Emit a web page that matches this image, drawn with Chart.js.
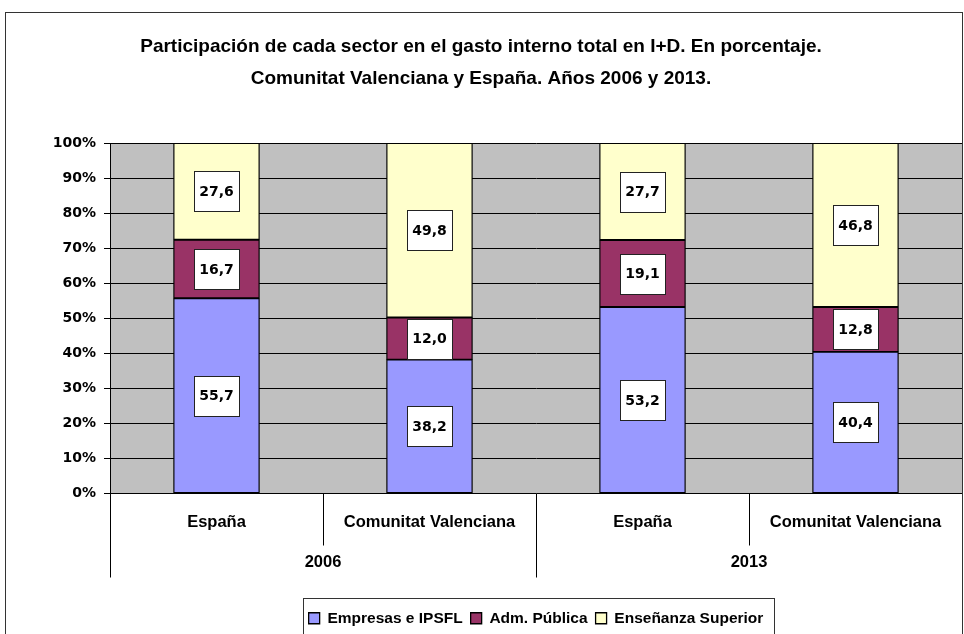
<!DOCTYPE html>
<html>
<head>
<meta charset="utf-8">
<script src="https://cdn.jsdelivr.net/npm/chart.js@4"></script>
<style>
html,body{margin:0;padding:0;background:#fff;overflow:hidden}
#wrap{width:964px;height:660px}
</style>
</head>
<body>
<div id="wrap"><canvas id="chart" width="964" height="660"></canvas></div>
<script>
const categories=['España','Comunitat Valenciana','España','Comunitat Valenciana'];
const years=['2006','2013'];
const seriesNames=['Empresas e IPSFL','Adm. Pública','Enseñanza Superior'];
const empresas=[55.7,38.2,53.2,40.4];
const admPublica=[16.7,12.0,19.1,12.8];
const ensenanza=[27.6,49.8,27.7,46.8];
const yTicks=[0,10,20,30,40,50,60,70,80,90,100];

const colors=['#9999FF','#993366','#FFFFCC'];
const titleLines=['Participación de cada sector en el gasto interno total en I+D. En porcentaje.','Comunitat Valenciana y España. Años 2006 y 2013.'];

const fmt=v=>v.toFixed(1).replace('.',',');

// fondo gris del área de trazado
const bgPlugin={
 id:'bg',
 beforeDraw(c){
  const ctx=c.ctx,a=c.chartArea;
  ctx.save();
  ctx.fillStyle='#fff';
  ctx.fillRect(0,0,c.width,c.height);
  ctx.fillStyle='#C0C0C0';
  ctx.fillRect(a.left,a.top,a.right-a.left,a.bottom-a.top);
  ctx.restore();
 }
};

// etiquetas de datos en cajas blancas
const boxLabels={
 id:'boxLabels',
 afterDatasetsDraw(c){
  const ctx=c.ctx;
  ctx.save();
  ctx.font='bold 14px "DejaVu Sans"';
  ctx.textAlign='center';
  ctx.textBaseline='middle';
  c.data.datasets.forEach((ds,i)=>{
   c.getDatasetMeta(i).data.forEach((el,j)=>{
    const p=el.getProps(['x','y','base'],true);
    const cy=(p.y+p.base)/2;
    const w=45,h=40;
    const bx=Math.round(p.x-w/2)+0.5,by=Math.round(cy-h/2)+0.5;
    ctx.fillStyle='#fff';
    ctx.fillRect(bx,by,w,h);
    ctx.strokeStyle='#222';
    ctx.lineWidth=1;
    ctx.strokeRect(bx,by,w,h);
    ctx.fillStyle='#000';
    ctx.fillText(fmt(ds.data[j]),p.x,cy+1);
   });
  });
  ctx.restore();
 }
};

// eje x de dos niveles, marco de la leyenda y borde exterior
const axisPlugin={
 id:'axis2',
 afterDraw(c){
  const ctx=c.ctx,a=c.chartArea,x=c.scales.x;
  const n=categories.length;
  const px=i=>x.getPixelForValue(i);
  const half=(px(1)-px(0))/2;
  ctx.save();
  ctx.strokeStyle='#000';
  ctx.lineWidth=1;
  ctx.beginPath();
  for(let i=0;i<n;i++){
   const bx=Math.round(px(i)-half)+0.5;
   const len=(i%2===0)?84:52;
   ctx.moveTo(bx,a.bottom);
   ctx.lineTo(bx,a.bottom+len);
  }
  ctx.stroke();
  ctx.fillStyle='#000';
  ctx.textAlign='center';
  ctx.textBaseline='middle';
  ctx.font='bold 16.5px "Liberation Sans"';
  categories.forEach((t,i)=>ctx.fillText(t,px(i),a.bottom+29));
  years.forEach((t,g)=>{
   const cx=(px(g*2)+px(g*2+1))/2;
   ctx.fillText(t,cx,a.bottom+69);
  });
  const hb=c.legend.legendHitBoxes;
  if(hb&&hb.length){
   const l=hb[0].left-6,r=hb[hb.length-1].left+hb[hb.length-1].width+10;
   const t=hb[0].top-13;
   ctx.strokeStyle='#333';
   ctx.strokeRect(Math.round(l)+0.5,Math.round(t)+0.5,Math.round(r-l),100);
  }
  ctx.strokeStyle='#333';
  ctx.strokeRect(5.5,12.5,957,700);
  ctx.restore();
 }
};

new Chart(document.getElementById('chart'),{
 type:'bar',
 data:{
  labels:categories,
  datasets:[
   {label:seriesNames[0],data:empresas,backgroundColor:colors[0]},
   {label:seriesNames[1],data:admPublica,backgroundColor:colors[1]},
   {label:seriesNames[2],data:ensenanza,backgroundColor:colors[2]}
  ].map(d=>Object.assign(d,{borderColor:'#000',borderWidth:1.3,borderSkipped:false,barThickness:86}))
 },
 options:{
  responsive:false,
  animation:false,
  devicePixelRatio:1,
  layout:{padding:{left:0,right:2,top:0,bottom:24}},
  plugins:{
   title:{display:true,text:titleLines,color:'#000',
    font:{family:'"Liberation Sans"',size:19,weight:'bold',lineHeight:32/19},
    padding:{top:31,bottom:48}},
   legend:{position:'bottom',fullSize:false,
    labels:{color:'#000',boxWidth:11,boxHeight:11,padding:8,
     font:{family:'"Liberation Sans"',size:15.5,weight:'bold'}}},
   tooltip:{enabled:false}
  },
  scales:{
   x:{stacked:true,
    ticks:{display:false},
    grid:{display:false},
    border:{display:false},
    afterFit(s){s.height=109;}},
   y:{stacked:true,min:0,max:100,
    afterBuildTicks(s){s.ticks=yTicks.map(v=>({value:v}));},
    ticks:{padding:8,color:'#000',
     font:{family:'"DejaVu Sans"',size:14,weight:'bold'},
     callback:v=>v+'%'},
    grid:{color:'#000',tickLength:6,lineWidth:1},
    border:{color:'#000'},
    afterFit(s){s.width=110;}}
  }
 },
 plugins:[bgPlugin,boxLabels,axisPlugin]
});
</script>
</body>
</html>
